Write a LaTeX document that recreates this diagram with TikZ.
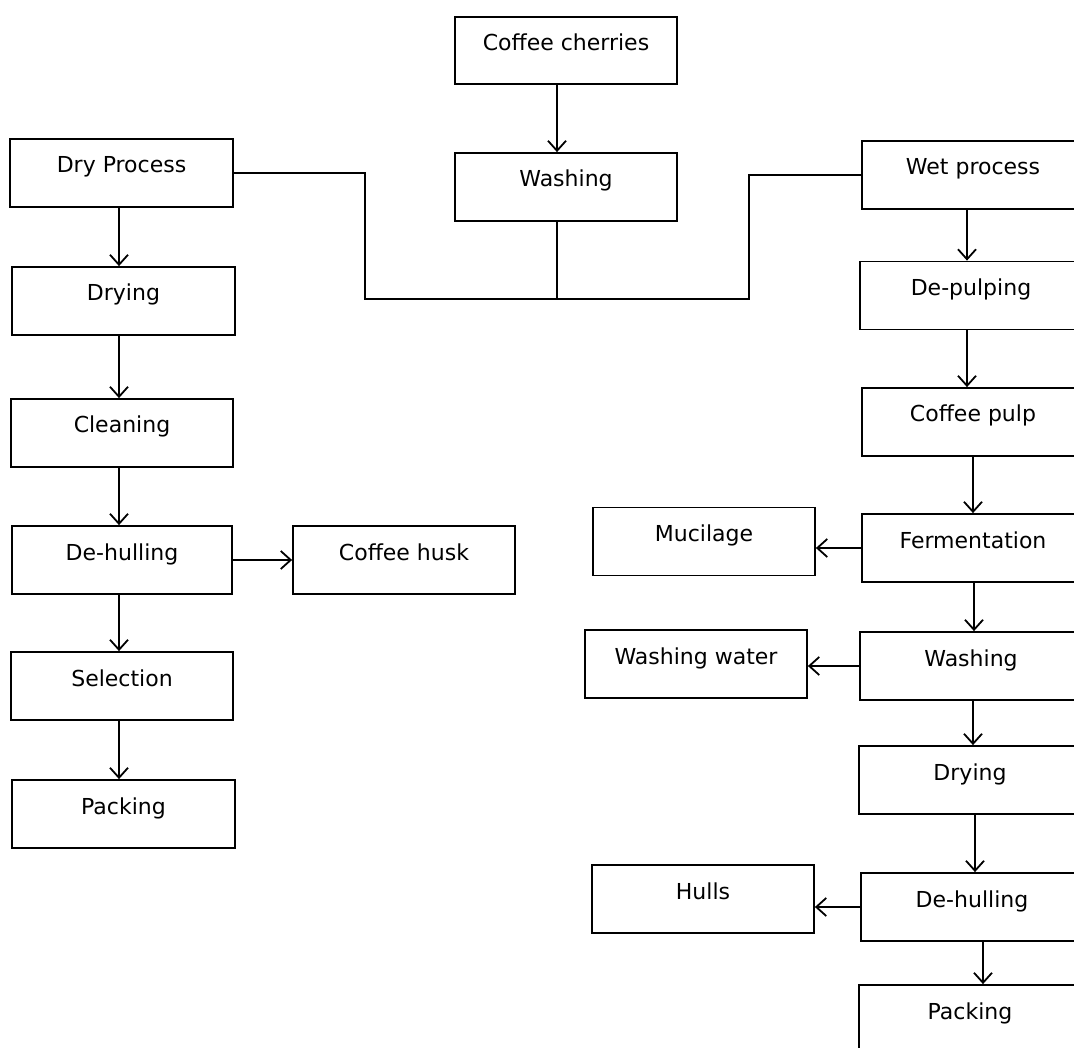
\documentclass[tikz,border=0pt]{standalone}
\usepackage{fontspec}
\setmainfont{DejaVu Sans}
\usetikzlibrary{arrows.meta}
\begin{document}
\begin{tikzpicture}[x=1pt,y=-1pt,
  box/.style={draw, line width=1.8pt, minimum width=222pt, minimum height=68pt, inner sep=0pt,
    text height=15.8pt, text depth=15.8pt, font=\fontsize{22}{26}\selectfont},
  arr/.style={line width=1.8pt, -{Straight Barb[length=10pt,width=18pt,line width=1.8pt]}},
  ln/.style={line width=1.8pt}]
\useasboundingbox (0,0) rectangle (1074,1048);
\fill[white] (0,0) rectangle (1074,1048);
% centre column
\node[box, minimum height=67pt] (cherries) at (566,50.5) {Coffee cherries};
\node[box] (washT) at (566,187) {Washing};
% dry process
\node[box, minimum width=223pt] (dry) at (121.5,173) {Dry Process};
\node[box, minimum width=223pt] (dryingL) at (123.5,301) {Drying};
\node[box] (cleaning) at (122,433) {Cleaning};
\node[box, minimum width=220pt] (dehullL) at (122,560) {De-hulling};
\node[box] (husk) at (404,560) {Coffee husk};
\node[box] (selection) at (122,686) {Selection};
\node[box, minimum width=223pt] (packL) at (123.5,814) {Packing};
% wet process
\node[box] (wet) at (973,175) {Wet process};
\node[box] (depulp) at (971,295.5) {De-pulping};
\node[box] (pulp) at (973,422) {Coffee pulp};
\node[box] (ferm) at (973,548) {Fermentation};
\node[box] (mucil) at (704,541.5) {Mucilage};
\node[box] (washR) at (971,666) {Washing};
\node[box] (wwater) at (696,664) {Washing water};
\node[box] (dryR) at (970,780) {Drying};
\node[box] (hulls) at (703,899) {Hulls};
\node[box] (dehullR) at (972,907) {De-hulling};
\node[box] (packR) at (970,1019) {Packing};
% junction
\coordinate (j) at (557,299);
\coordinate (jl) at (365,299);
\coordinate (jr) at (749,299);
\draw[arr] (cherries.south -| j) -- (washT.north -| j);
\draw[ln] (washT.south -| j) -- (j);
\draw[ln] (dry.east) -| (jl) -- (jr) |- (wet.west);
% dry column arrows
\coordinate (xl) at (119,0);
\draw[arr] (dry.south -| xl) -- (dryingL.north -| xl);
\draw[arr] (dryingL.south -| xl) -- (cleaning.north -| xl);
\draw[arr] (cleaning.south -| xl) -- (dehullL.north -| xl);
\draw[arr] (dehullL.south -| xl) -- (selection.north -| xl);
\draw[arr] (selection.south -| xl) -- (packL.north -| xl);
\draw[arr] (dehullL.east) -- (dehullL.east -| husk.west);
% wet column arrows
\coordinate (x1) at (967,0);
\coordinate (x2) at (973,0);
\coordinate (x3) at (974,0);
\coordinate (x4) at (975,0);
\coordinate (x5) at (983,0);
\draw[arr] (wet.south -| x1) -- (depulp.north -| x1);
\draw[arr] (depulp.south -| x1) -- (pulp.north -| x1);
\draw[arr] (pulp.south -| x2) -- (ferm.north -| x2);
\draw[arr] (ferm.south -| x3) -- (washR.north -| x3);
\draw[arr] (washR.south -| x2) -- (dryR.north -| x2);
\draw[arr] (dryR.south -| x4) -- (dehullR.north -| x4);
\draw[arr] (dehullR.south -| x5) -- (packR.north -| x5);
\draw[arr] (ferm.west) -- (ferm.west -| mucil.east);
\draw[arr] (washR.west) -- (washR.west -| wwater.east);
\draw[arr] (dehullR.west) -- (dehullR.west -| hulls.east);
\end{tikzpicture}
\end{document}
